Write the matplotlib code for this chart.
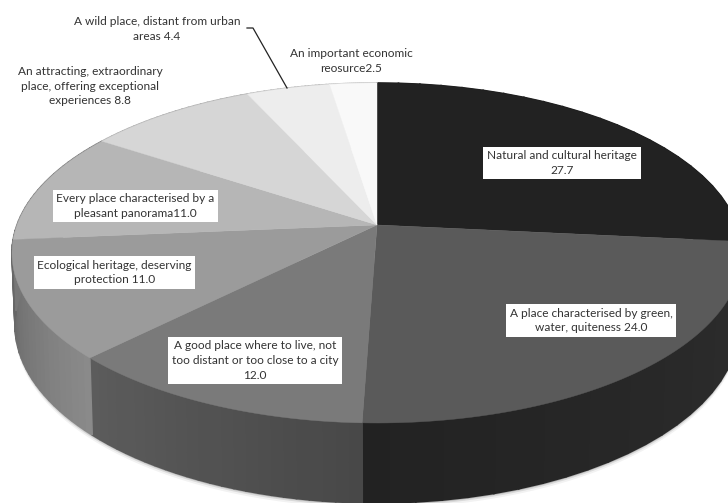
import numpy as np
import matplotlib
matplotlib.use('Agg')
import matplotlib.pyplot as plt
from matplotlib.colors import to_rgb

# Textos tal como aparecen en el grafico (sentido horario desde arriba)
labels = ['Natural and cultural heritage\n27.7',
          'A place characterised by green,\nwater, quiteness 24.0',
          'A good place where to live, not\ntoo distant or too close to a city\n12.0',
          'Ecological heritage, deserving\nprotection 11.0',
          'Every place characterised by a\npleasant panorama11.0',
          'An attracting, extraordinary\nplace, offering exceptional\nexperiences 8.8',
          'A wild place, distant from urban\nareas 4.4',
          'An important economic\nreosurce2.5']
# Tamano de cada sector medido en la figura (las etiquetas suman 101.4)
shares = [26.6, 24.0, 11.9, 11.2, 10.7, 8.9, 4.35, 2.45]

face_colors = ['#222222', '#5a5a5a', '#7a7a7a', '#9b9b9b', '#b6b6b6', '#d6d6d6', '#ededed', '#f9f9f9']
wall_start = ['#1c1c1c', '#2e2e2e', '#484848', '#8a8a8a', '#777777', '#aaaaaa', '#bbbbbb', '#cccccc']
wall_end = ['#1c1c1c', '#222222', '#5c5c5c', '#666666', '#777777', '#aaaaaa', '#bbbbbb', '#cccccc']

# Posiciones de las etiquetas (pixeles) y si llevan caja blanca
label_pos = [(562, 163), (591, 320.5), (255, 360.5), (114.5, 272.5), (135.5, 206),
             (90, 86), (157, 29), (351, 61)]
label_box = [True, True, True, True, True, False, False, False]

# Elipses de la cara superior y de la base, en pixeles
cx, cy, a, b = 377, 253, 365, 170
cy2, a2, b2 = 325, 362, 178
persp = 0.165  # desplazamiento del centro por la perspectiva


def circulo(t):
    # angulo horario desde arriba -> circulo unidad con perspectiva
    u, v = np.sin(t), np.cos(t)
    w = 1 + persp * v
    return u * np.sqrt(1 - persp ** 2) / w, (v + persp) / w


def mezcla(c1, c2, f):
    return tuple(np.array(to_rgb(c1)) * (1 - f) + np.array(to_rgb(c2)) * f)


fig = plt.figure(figsize=(7.28, 5.03), dpi=100)
ax = fig.add_axes([0, 0, 1, 1])
ax.set_xlim(0, 728)
ax.set_ylim(503, 0)
ax.axis('off')

limites = np.cumsum([0] + shares) / sum(shares) * 2 * np.pi

# Sombra suave bajo la base
tt = np.linspace(np.pi * 0.4, np.pi * 1.55, 200)
X, Y = circulo(tt)
for d, al in [(5, 0.05), (3, 0.10), (1.5, 0.18)]:
    ax.fill(cx + a2 * X, cy2 - b2 * Y + d, color='black', alpha=al, lw=0, zorder=1)

# Pared lateral, por tramos para el degradado
for i in range(len(shares)):
    t = np.linspace(limites[i], limites[i + 1], 25)
    X, Y = circulo(t)
    for j in range(24):
        xs = [cx + a * X[j], cx + a * X[j + 1], cx + a2 * X[j + 1], cx + a2 * X[j]]
        ys = [cy - b * Y[j], cy - b * Y[j + 1], cy2 - b2 * Y[j + 1], cy2 - b2 * Y[j]]
        c = mezcla(wall_start[i], wall_end[i], j / 23)
        ax.fill(xs, ys, fc=c, ec=c, lw=1.2, zorder=2)

# Cara superior
centro_x = cx
centro_y = cy - b * persp
for i in range(len(shares)):
    t = np.linspace(limites[i], limites[i + 1], 80)
    X, Y = circulo(t)
    ax.fill(np.r_[centro_x, cx + a * X], np.r_[centro_y, cy - b * Y],
            color=face_colors[i], lw=0.3, zorder=3)

# Etiquetas
for texto, pos, caja in zip(labels, label_pos, label_box):
    bbox = dict(boxstyle='square,pad=0.3', fc='white', ec='none') if caja else None
    ax.text(pos[0], pos[1], texto, ha='center', va='center', ma='center',
            family='Lato', fontsize=8.6, color='#333333', linespacing=1.42,
            bbox=bbox, zorder=5)

# Linea guia de "A wild place"
ax.plot([247, 253, 287], [28, 28, 88], color='#222222', lw=0.9, zorder=6)

plt.savefig('out.png', dpi=100)
